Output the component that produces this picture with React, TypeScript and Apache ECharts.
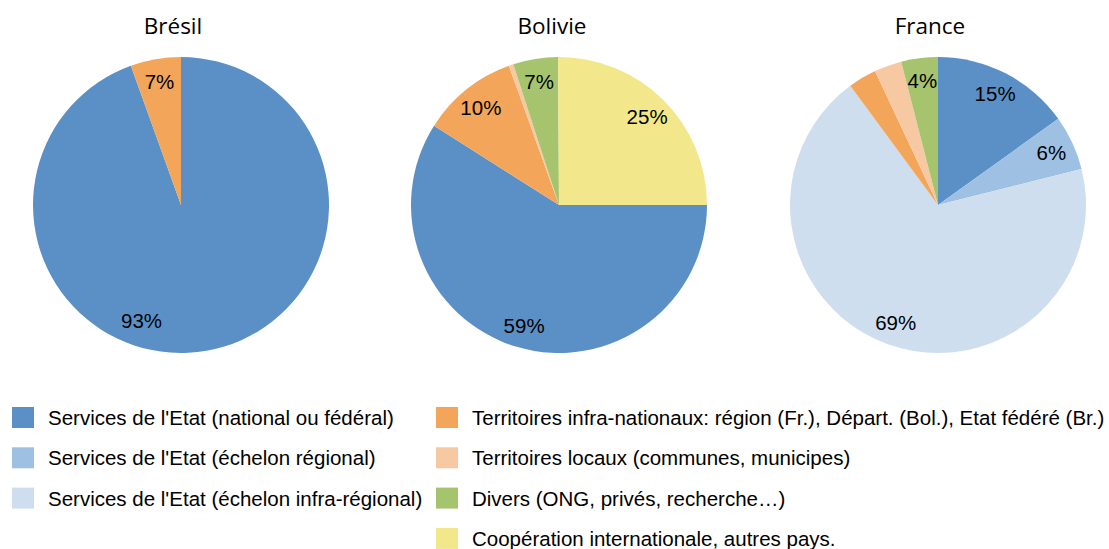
import React, { useEffect, useRef } from "react";
import * as echarts from "echarts";

// ---- data ----
const categories = [
  "Services de l'Etat (national ou fédéral)",
  "Services de l'Etat (échelon régional)",
  "Services de l'Etat (échelon infra-régional)",
  "Territoires infra-nationaux: région (Fr.), Départ. (Bol.), Etat fédéré (Br.)",
  "Territoires locaux (communes, municipes)",
  "Divers (ONG, privés, recherche…)",
  "Coopération internationale, autres pays.",
];

const countries = ["Brésil", "Bolivie", "France"];

// category index of each slice, in drawing order
const bresilCats = [0, 3];
const bresilValues = [94.5, 5.5];
const bresilLabels = ["93%", "7%"];

const bolivieCats = [0, 3, 4, 5, 6];
const bolivieValues = [59.0, 10.5, 0.5, 4.9, 25.1];
const bolivieLabels = ["59%", "10%", "", "7%", "25%"];

const franceCats = [0, 1, 2, 3, 4, 5];
const franceValues = [15.1, 6.0, 68.8, 3.1, 3.0, 4.0];
const franceLabels = ["15%", "6%", "69%", "", "", "4%"];

// ---- style / layout ----
const colors = ["#5B90C6", "#9DC0E3", "#CEDEEF", "#F3A659", "#F7C9A2", "#A6C46E", "#F2E78A"];
const centers: [number, number][] = [
  [181, 205],
  [559, 205],
  [938, 205],
];
const titlePos: [number, number][] = [
  [173, 25],
  [552, 25],
  [930, 25],
];
const startAngles = [90, 0, 90];
const RADIUS = 148;
const LABEL_INNER = 96;
const textFont = "'Liberation Sans', Arial, sans-serif";

export default function App() {
  const ref = useRef<HTMLDivElement>(null);
  useEffect(() => {
    if (!ref.current) return;
    const chart = echarts.init(ref.current, undefined, { renderer: "svg" });
    const pies = [
      { cats: bresilCats, values: bresilValues, labels: bresilLabels },
      { cats: bolivieCats, values: bolivieValues, labels: bolivieLabels },
      { cats: franceCats, values: franceValues, labels: franceLabels },
    ];
    const series: any[] = [];
    pies.forEach((p, i) => {
      series.push({
        type: "pie",
        name: countries[i],
        center: centers[i],
        radius: RADIUS,
        startAngle: startAngles[i],
        clockwise: true,
        avoidLabelOverlap: false,
        label: { show: false },
        labelLine: { show: false },
        emphasis: { disabled: true },
        silent: true,
        data: p.cats.map((c, j) => ({
          name: categories[c],
          value: p.values[j],
          itemStyle: { color: colors[c], borderWidth: 0 },
        })),
      });
    });
    pies.forEach((p, i) => {
      series.push({
        type: "pie",
        name: countries[i] + "-labels",
        center: centers[i],
        radius: [LABEL_INNER, RADIUS],
        startAngle: startAngles[i],
        clockwise: true,
        avoidLabelOverlap: false,
        silent: true,
        emphasis: { disabled: true },
        itemStyle: { color: "rgba(0,0,0,0)", borderWidth: 0 },
        labelLine: { show: false },
        label: {
          show: true,
          position: "inside",
          color: "#000",
          fontSize: 20.5,
          fontFamily: textFont,
          formatter: (prm: any) => p.labels[prm.dataIndex],
        },
        labelLayout:
          i === 0
            ? (prm: any) => (prm.dataIndex === 0 ? { dx: -61, dy: -8 } : {})
            : undefined,
        data: p.values.map((v) => ({ value: v })),
      });
    });

    const legendCommon = {
      orient: "vertical",
      icon: "rect",
      itemWidth: 22,
      itemHeight: 21,
      itemGap: 19.3,
      padding: 0,
      height: 160,
      selectedMode: false,
      textStyle: {
        fontSize: 20.5,
        lineHeight: 21,
        fontFamily: textFont,
        color: "#000",
        padding: [0, 0, 0, 9],
      },
    };

    chart.setOption({
      animation: false,
      backgroundColor: "#fff",
      graphic: countries.map((c, i) => ({
        type: "text",
        x: titlePos[i][0],
        y: titlePos[i][1],
        style: {
          text: c,
          fontSize: 22.5,
          fontFamily: "'Open Sans', sans-serif",
          fill: "#000",
          align: "center",
          verticalAlign: "middle",
        },
      })),
      legend: [
        { ...legendCommon, left: 12, top: 407, data: categories.slice(0, 3) },
        { ...legendCommon, left: 436, top: 407, data: categories.slice(3) },
      ],
      series,
    });
    return () => chart.dispose();
  }, []);
  return (
    <div
      ref={ref}
      style={{ position: "absolute", left: 0, top: 0, width: 1109, height: 549 }}
    />
  );
}
